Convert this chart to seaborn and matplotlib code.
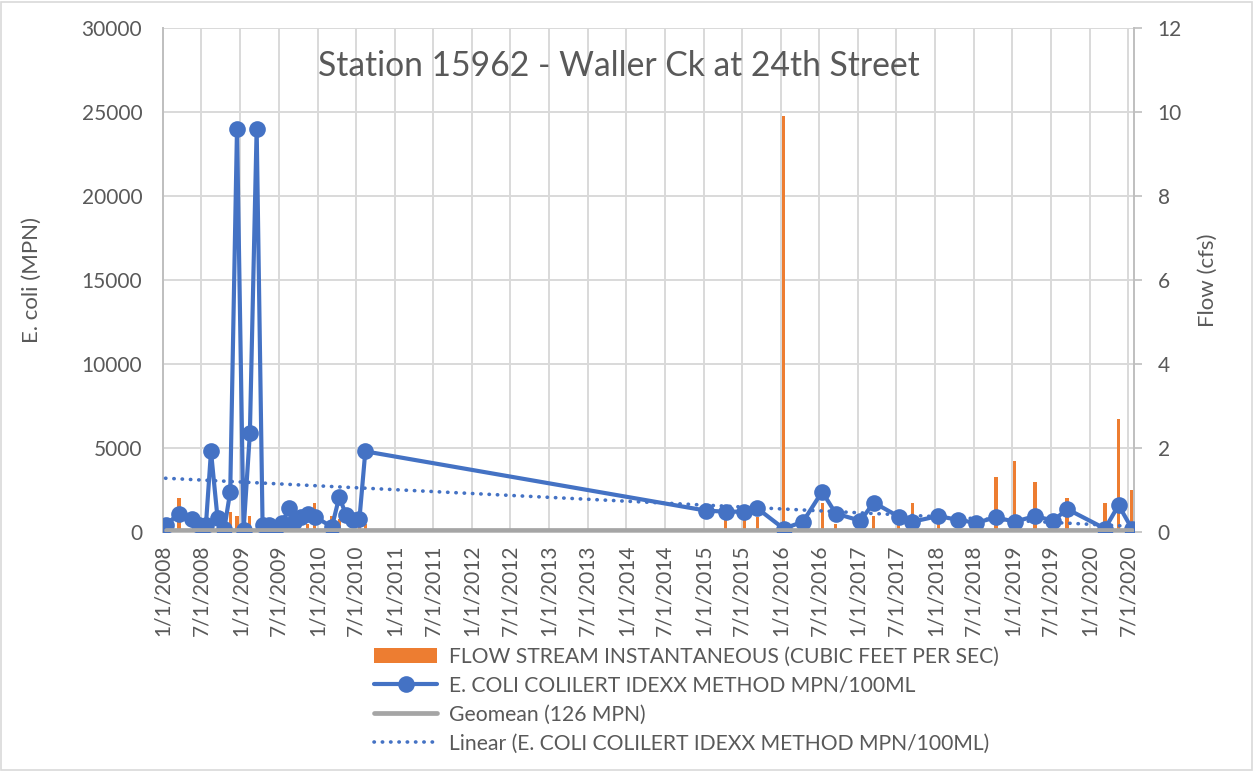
import matplotlib
matplotlib.use("Agg")
import matplotlib.pyplot as plt
import matplotlib.dates as mdates
from matplotlib.lines import Line2D
from matplotlib.patches import Patch, Rectangle
import seaborn as sns
import pandas as pd
import numpy as np

# ---------------- data ----------------
ecoli_dates = [
    "2008-01-13", "2008-03-17", "2008-05-16", "2008-06-20", "2008-07-22",
    "2008-08-15", "2008-09-15", "2008-10-17", "2008-11-14", "2008-12-16",
    "2009-01-16", "2009-02-15", "2009-03-19", "2009-04-16", "2009-05-18",
    "2009-06-16", "2009-07-17", "2009-08-18", "2009-09-14", "2009-10-15",
    "2009-11-16", "2009-12-18", "2010-03-10", "2010-04-14", "2010-05-16",
    "2010-06-16", "2010-07-18", "2010-08-15",
    "2015-01-14", "2015-04-15", "2015-07-13", "2015-09-12", "2016-01-15",
    "2016-04-15", "2016-07-15", "2016-09-17", "2017-01-12", "2017-03-16",
    "2017-07-13", "2017-09-15", "2018-01-15", "2018-04-19", "2018-07-13",
    "2018-10-15", "2019-01-12", "2019-04-18", "2019-07-14", "2019-09-16",
    "2020-03-14", "2020-05-17", "2020-07-19",
]
ecoli_values = [
    410, 1100, 750, 410, 410,
    4800, 820, 200, 2400, 24000,
    100, 5900, 24000, 410, 410,
    100, 520, 1400, 610, 910,
    1100, 910, 310, 2100, 1000,
    720, 750, 4800,
    1270, 1210, 1210, 1410, 200,
    610, 2400, 1100, 670, 1750,
    910, 610, 950, 720, 550,
    870, 610, 950, 670, 1370,
    200, 1600, 200,
]

flow_dates = [
    "2008-03-17", "2008-11-14", "2008-12-16", "2009-02-15", "2009-11-16",
    "2009-12-18", "2010-03-10", "2010-04-14", "2010-07-18", "2010-08-15",
    "2015-04-15", "2015-07-13", "2015-09-12", "2016-01-15", "2016-07-15",
    "2016-09-17", "2017-03-16", "2017-07-13", "2017-09-15", "2018-01-15",
    "2018-10-15", "2019-01-12", "2019-04-18", "2019-09-16", "2020-03-14",
    "2020-05-17", "2020-07-19",
]
flow_values = [
    0.8, 0.48, 0.38, 0.38, 0.2,
    0.7, 0.38, 0.3, 0.2, 0.2,
    0.29, 0.29, 0.36, 9.9, 0.7,
    0.19, 0.38, 0.17, 0.7, 0.21,
    1.3, 1.7, 1.2, 0.8, 0.68,
    2.7, 1.0,
]

geomean_value = 126

tick_labels = [
    "1/1/2008", "7/1/2008", "1/1/2009", "7/1/2009", "1/1/2010", "7/1/2010",
    "1/1/2011", "7/1/2011", "1/1/2012", "7/1/2012", "1/1/2013", "7/1/2013",
    "1/1/2014", "7/1/2014", "1/1/2015", "7/1/2015", "1/1/2016", "7/1/2016",
    "1/1/2017", "7/1/2017", "1/1/2018", "7/1/2018", "1/1/2019", "7/1/2019",
    "1/1/2020", "7/1/2020",
]
left_ticks = [0, 5000, 10000, 15000, 20000, 25000, 30000]
right_ticks = [0, 2, 4, 6, 8, 10, 12]

title_text = "Station 15962 - Waller Ck at 24th Street"
series_labels = [
    "FLOW STREAM INSTANTANEOUS (CUBIC FEET PER SEC)",
    "E. COLI COLILERT IDEXX METHOD MPN/100ML",
    "Geomean (126 MPN)",
    "Linear (E. COLI COLILERT IDEXX METHOD MPN/100ML)",
]

# ---------------- styling ----------------
BLUE = "#4472C4"
ORANGE = "#ED7D31"
GRAY = "#A5A5A5"
TEXT = "#595959"
GRID = "#D9D9D9"
AXIS = "#BFBFBF"

sns.set_theme(style="white")
plt.rcParams["font.family"] = ["Lato", "DejaVu Sans"]

df_e = pd.DataFrame({"date": pd.to_datetime(ecoli_dates), "ecoli": ecoli_values})
df_f = pd.DataFrame({"date": pd.to_datetime(flow_dates), "flow": flow_values})
tick_dates = pd.to_datetime(tick_labels, format="%m/%d/%Y")

fig = plt.figure(figsize=(12.55, 7.71), dpi=100)
ax = fig.add_axes([163 / 1255, 1 - 532 / 771, (1134 - 163) / 1255, (532 - 28) / 771])
ax2 = ax.twinx()
ax.set_zorder(ax2.get_zorder() + 1)
ax.patch.set_visible(False)
ax2.patch.set_visible(True)
ax2.patch.set_facecolor("white")

# flow bars (secondary axis)
ax2.bar(df_f["date"], df_f["flow"], width=15, color=ORANGE, linewidth=0, zorder=3)

# E. coli series
sns.lineplot(data=df_e, x="date", y="ecoli", ax=ax, color=BLUE, linewidth=3,
             marker="o", markersize=12, markeredgewidth=0, legend=False,
             zorder=4, estimator=None, sort=False)

# geomean line
df_g = pd.DataFrame({"date": [df_e["date"].min(), df_e["date"].max()],
                     "g": [geomean_value, geomean_value]})
sns.lineplot(data=df_g, x="date", y="g", ax=ax, color=GRAY, linewidth=3.4,
             legend=False, zorder=5)

# linear trend of E. coli
xnum = mdates.date2num(df_e["date"])
slope, intercept = np.polyfit(xnum, df_e["ecoli"], 1)
df_t = pd.DataFrame({"date": [df_e["date"].min(), df_e["date"].max()]})
df_t["trend"] = intercept + slope * mdates.date2num(df_t["date"])
sns.lineplot(data=df_t, x="date", y="trend", ax=ax, color=BLUE, linewidth=2.6,
             linestyle=(0, (0.1, 2.2)), dash_capstyle="round", legend=False, zorder=6)

# axes limits
x0 = pd.Timestamp("2008-01-01")
x1 = pd.Timestamp("2020-07-29")
ax.set_xlim(x0, x1)
ax.set_ylim(0, 30000)
ax2.set_ylim(0, 12)

# ticks
ax.set_xticks(tick_dates)
ax.set_xticklabels(tick_labels, rotation=90, fontsize=15, color=TEXT)
ax.set_yticks(left_ticks)
ax.set_yticklabels([str(v) for v in left_ticks], fontsize=15, color=TEXT)
ax2.set_yticks(right_ticks)
ax2.set_yticklabels([str(v) for v in right_ticks], fontsize=15, color=TEXT)

ax.tick_params(axis="x", length=0, pad=9)
ax.tick_params(axis="y", length=0, pad=15)
ax2.tick_params(axis="y", length=6, width=1.2, color=AXIS, pad=11, direction="out")

# gridlines on the lower axes
ax2.xaxis.set_visible(True)
ax2.set_xticks(tick_dates)
ax2.tick_params(axis="x", labelbottom=False, bottom=False, length=0)
ax2.grid(True, axis="both", color=GRID, linewidth=1.4)
ax2.set_axisbelow(True)
ax.grid(False)

# spines
ax.spines["top"].set_visible(False)
ax2.spines["top"].set_visible(False)
ax.spines["right"].set_visible(False)
ax.spines["left"].set_color(AXIS)
ax.spines["left"].set_linewidth(1.4)
ax.spines["bottom"].set_color(AXIS)
ax.spines["bottom"].set_linewidth(1.4)
ax2.spines["left"].set_visible(False)
ax2.spines["bottom"].set_visible(False)
ax2.spines["right"].set_color(AXIS)
ax2.spines["right"].set_linewidth(1.4)

# labels
ax.set_xlabel("")
ax.set_ylabel("E. coli (MPN)", fontsize=16, color=TEXT)
ax.yaxis.set_label_coords((42 - 163) / 971, 0.5)
ax2.set_ylabel("Flow (cfs)", fontsize=16, color=TEXT)
ax2.yaxis.set_label_coords((1198 - 163) / 971, 0.5)

ax.text((619 - 163) / 971, (532 - 66) / 504, title_text, transform=ax.transAxes,
        ha="center", va="center", fontsize=24.2, color=TEXT, zorder=10)

# legend
handles = [
    Patch(facecolor=ORANGE, edgecolor="none"),
    Line2D([], [], color=BLUE, linewidth=3, marker="o", markersize=12, markeredgewidth=0),
    Line2D([], [], color=GRAY, linewidth=3.4),
    Line2D([], [], color=BLUE, linewidth=2.6, linestyle=(0, (0.1, 2.2)), dash_capstyle="round"),
]
leg = fig.legend(handles, series_labels, loc="upper left",
                 bbox_to_anchor=(374 / 1255, 1 - 647 / 771), frameon=False,
                 fontsize=15.2, handlelength=3.0, handletextpad=0.55,
                 labelspacing=0.42, borderpad=0, borderaxespad=0)
for t in leg.get_texts():
    t.set_color(TEXT)

# chart border
fig.patches.append(Rectangle((0.001, 0.001), 0.997, 0.997, transform=fig.transFigure,
                             fill=False, edgecolor=GRID, linewidth=1.2))

fig.savefig("out.png", dpi=100, facecolor="white")
